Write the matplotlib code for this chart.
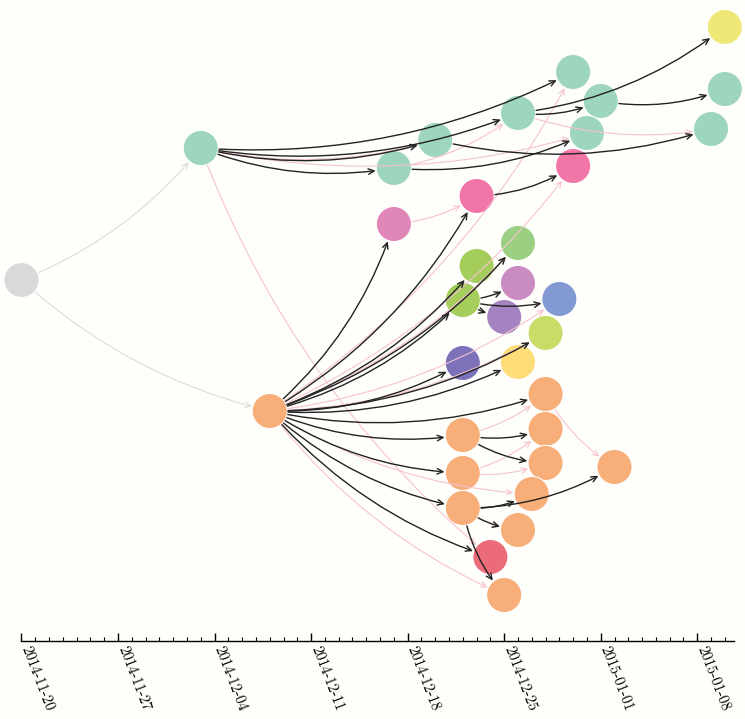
import matplotlib
matplotlib.use("Agg")
import matplotlib.pyplot as plt
import matplotlib.dates as mdates
import datetime as dt

# ---------------- data ----------------
node_ids = ["root", "A", "B",
            "T1", "T2", "T3", "T4", "T5", "T6", "T7", "T8", "Y1",
            "P1", "P2", "P3",
            "G1", "G2", "G3", "M1", "M2", "BL", "LG", "V", "YL",
            "O1", "O2", "O3", "O4", "O5", "O6", "O7", "O8", "O9", "O10", "R"]
node_dates = ["2014-11-20", "2014-12-03", "2014-12-08",
              "2014-12-17", "2014-12-20", "2014-12-26", "2014-12-30", "2015-01-01",
              "2014-12-31", "2015-01-09", "2015-01-10", "2015-01-10",
              "2014-12-17", "2014-12-23", "2014-12-30",
              "2014-12-26", "2014-12-23", "2014-12-22", "2014-12-26", "2014-12-25",
              "2014-12-29", "2014-12-28", "2014-12-22", "2014-12-26",
              "2014-12-28", "2014-12-22", "2014-12-28", "2014-12-22", "2014-12-28",
              "2015-01-02", "2014-12-27", "2014-12-22", "2014-12-26", "2014-12-25",
              "2014-12-24"]
# vertical lane of each node (rows counted from the top)
node_rows = [280, 148, 411,
             168, 140, 113, 72, 101, 133, 129, 89, 27,
             224, 196, 166,
             243, 266, 300, 283, 317, 299, 333, 363, 362,
             394, 435, 429, 473, 463, 467, 494, 508, 530, 595, 557]
node_colors = ["#d9d9d9", "#9dd5bd", "#f7ae78",
               "#9dd5bd", "#9dd5bd", "#9dd5bd", "#9dd5bd", "#9dd5bd",
               "#9dd5bd", "#9dd5bd", "#9dd5bd", "#eee877",
               "#e187b7", "#ef76a6", "#ef76a6",
               "#9bcf82", "#a5cd5c", "#a5cd5c", "#c98bc0", "#a583c0",
               "#8299d3", "#c8dc68", "#7d72ba", "#fedd78",
               "#f7ae78", "#f7ae78", "#f7ae78", "#f7ae78", "#f7ae78",
               "#f7ae78", "#f7ae78", "#f7ae78", "#f7ae78", "#f7ae78",
               "#ec6b7b"]

root_edges = [("root", "A"), ("root", "B")]
tree_edges = [("A", "T4"), ("A", "T3"), ("A", "T2"), ("A", "T1"),
              ("T1", "T6"), ("T3", "T5"), ("T3", "Y1"), ("T2", "T7"), ("T5", "T8"),
              ("B", "P1"), ("B", "P2"), ("B", "G1"), ("B", "G2"), ("B", "G3"),
              ("B", "LG"), ("B", "V"), ("B", "YL"), ("B", "O1"), ("B", "O2"),
              ("B", "O4"), ("B", "O8"), ("B", "R"),
              ("G3", "M1"), ("G3", "BL"), ("G3", "M2"), ("P2", "P3"),
              ("O2", "O3"), ("O2", "O5"), ("O8", "O7"), ("O8", "O6"),
              ("O8", "O9"), ("O8", "O10")]
link_edges = [("A", "T2"), ("A", "T6"), ("T1", "T3"), ("T3", "T7"), ("P1", "P2"),
              ("B", "T4"), ("B", "P3"), ("B", "BL"), ("B", "LG"), ("B", "G1"),
              ("B", "O7"), ("B", "O10"), ("A", "R"), ("O2", "O1"), ("O4", "O3"),
              ("O4", "O5"), ("O1", "O6"), ("O8", "O9")]

tick_labels = ["2014-11-20", "2014-11-27", "2014-12-04", "2014-12-11",
               "2014-12-18", "2014-12-25", "2015-01-01", "2015-01-08"]

# ---------------- figure ----------------
plt.rcParams["font.family"] = ["cmr10", "DejaVu Serif"]
plt.rcParams["axes.unicode_minus"] = False
plt.rcParams["axes.formatter.use_mathtext"] = True

W, H = 745, 719
bg = "#fefefb"
fig = plt.figure(figsize=(W / 100, H / 100), dpi=100, facecolor=bg)
ax = fig.add_axes([21.5 / W, 78 / H, 713 / W, 641 / H])
ax.set_facecolor(bg)

to_num = lambda s: mdates.date2num(dt.datetime.strptime(s, "%Y-%m-%d"))
x0 = to_num("2014-11-20")
ax.set_xlim(x0, x0 + 51.7)
ax.set_ylim(641, 0)

pos = {n: (to_num(d), r) for n, d, r in zip(node_ids, node_dates, node_rows)}

ax.scatter([pos[n][0] for n in node_ids], [pos[n][1] for n in node_ids],
           s=640, c=node_colors, edgecolors="white", linewidths=0.8,
           zorder=2, clip_on=False)

R_PT = 13.2


def draw_edge(src, dst, color, lw, rad, z, hl=0.42, hw=0.2):
    ax.annotate("", xy=pos[dst], xytext=pos[src], xycoords="data",
                textcoords="data", annotation_clip=False, zorder=z,
                arrowprops=dict(arrowstyle=f"->,head_length={hl},head_width={hw}",
                                color=color, lw=lw, shrinkA=R_PT, shrinkB=R_PT,
                                connectionstyle=f"arc3,rad={rad}"))


for s, d in root_edges:
    draw_edge(s, d, "#dcdcdc", 0.8, 0.13, 3)
for s, d in link_edges:
    draw_edge(s, d, "#f6c3cf", 0.8, 0.13, 3)
for s, d in tree_edges:
    draw_edge(s, d, "#222222", 1.0, 0.14, 4)

for sp in ["top", "left", "right"]:
    ax.spines[sp].set_visible(False)
ax.spines["bottom"].set_linewidth(1.0)
ax.set_yticks([])

ax.set_xticks([to_num(t) for t in tick_labels])
ax.set_xticks([x0 + i for i in range(52)], minor=True)
ax.set_xticklabels(tick_labels, rotation=-69, ha="left", va="baseline",
                   rotation_mode="anchor", fontsize=10.5)
ax.tick_params(axis="x", which="major", direction="in", length=6, width=1, pad=5)
ax.tick_params(axis="x", which="minor", direction="in", length=3, width=0.8)

fig.savefig("out.png", dpi=100, facecolor=bg)
